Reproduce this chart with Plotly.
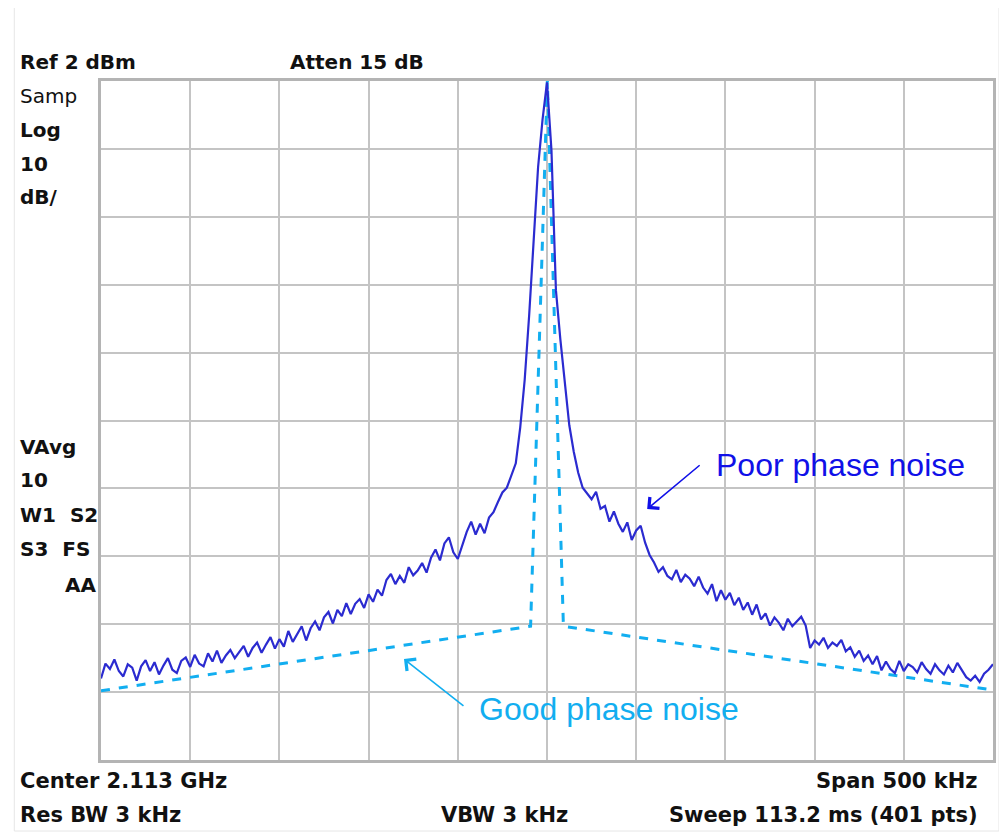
import plotly.graph_objects as go

# ---- data ----
freq_start_khz = -250.0
freq_step_khz = 2.5
poor_db = [
    -86.0, -83.8, -84.6, -83.2, -84.9, -85.7, -83.9, -84.4, -86.3, -84.2,
    -83.3, -84.9, -83.6, -85.4, -84.1, -83.0, -84.7, -85.2, -83.4, -82.9,
    -84.3, -82.5, -83.8, -84.2, -82.3, -83.5, -81.9, -83.7, -82.6, -81.8,
    -83.0, -82.1, -81.2, -82.8, -81.5, -80.7, -82.2, -81.0, -79.9, -81.6,
    -80.2, -81.3, -79.0, -80.6, -79.5, -78.3, -80.4, -78.6, -77.6, -78.9,
    -77.0, -76.2, -77.9, -75.9, -76.8, -74.9, -76.5, -75.0, -74.3, -75.6,
    -73.6, -74.7, -72.9, -73.8, -71.5, -70.6, -72.1, -70.9, -71.9, -69.6,
    -70.8, -70.1, -69.0, -70.4, -68.2, -67.0, -68.6, -66.1, -65.2, -67.4,
    -68.4, -66.5, -64.4, -62.9, -64.8, -63.2, -64.6, -62.3, -61.5, -60.0,
    -58.6, -57.9, -56.2, -54.3, -49.0, -42.0, -32.5, -20.7, -10.7, -3.7,
    1.8,
    -8.2, -28.8, -36.1, -42.8, -48.7, -52.6, -55.7, -57.9, -58.7,
    -59.6, -58.5, -61.0, -60.6, -62.9, -61.4, -63.2, -64.4, -63.0, -65.6,
    -64.2, -63.5, -66.0, -67.8, -68.9, -70.3, -69.6, -70.9, -71.4, -70.0,
    -71.8, -70.7, -71.3, -72.4, -71.0, -72.6, -73.5, -72.1, -74.6, -73.0,
    -74.4, -73.4, -75.2, -74.1, -75.9, -74.8, -76.6, -75.1, -77.3, -76.4,
    -78.2, -77.0, -77.8, -78.9, -77.2, -78.3, -77.6, -76.9, -78.2, -81.5,
    -80.4, -81.0, -80.0, -81.5, -80.7, -81.2, -80.3, -82.0, -81.4, -82.8,
    -81.9, -83.4, -82.6, -83.9, -82.7, -84.8, -83.5, -84.6, -85.2, -83.4,
    -84.9, -83.9, -84.3, -85.1, -83.6, -84.6, -85.3, -83.9, -84.8, -85.4,
    -84.1, -85.1, -83.7, -84.7, -85.8, -86.3, -85.6, -86.5, -85.3, -84.7,
    -83.9,
]
poor_freq = [freq_start_khz + freq_step_khz * i for i in range(len(poor_db))]

good_freq = [-250.0, -9.2, 0.2, 9.2, 250.0]
good_db = [-87.8, -78.3, 2.0, -78.3, -87.7]

ref_level = 2.0
db_per_div = 10.0
span_khz = 500.0

header = ["Ref 2 dBm", "Atten 15 dB"]
side_top = ["Samp", "Log", "10", "dB/"]
side_bottom = ["VAvg", "10", "W1&nbsp;&nbsp;S2", "S3&nbsp;&nbsp;FS", "AA"]
footer = ["Center 2.113 GHz", "Span 500 kHz", "Res BW 3 kHz", "VBW 3 kHz",
          "Sweep 113.2 ms (401 pts)"]
poor_label = "Poor phase noise"
good_label = "Good phase noise"

# ---- figure ----
# page body has an 8px margin, so the figure is 8px smaller and coordinates
# below are expressed in window pixels
OFF = 8
WIN_W, WIN_H = 1007, 832
W, H = WIN_W - OFF, WIN_H - OFF
L, R, T, B = 101, 996, 81, 760

def px(x):
    return (x - L) / (R - L)

def py(y):
    return (B - y) / (B - T)

fig = go.Figure()
fig.add_trace(go.Scatter(x=good_freq, y=good_db, mode="lines",
                         line=dict(color="#12aef0", width=3, dash="dash"),
                         hoverinfo="skip", showlegend=False))
fig.add_trace(go.Scatter(x=poor_freq, y=poor_db, mode="lines",
                         line=dict(color="#2b2bd0", width=2.2),
                         showlegend=False))

lbl = dict(family="DejaVu Sans, Liberation Sans, sans-serif", size=20, color="#111111")
lbl_foot = dict(family="DejaVu Sans, Liberation Sans, sans-serif", size=21, color="#111111")
ann = []

def text(t, x, y, anchor="left", bold=True, font=None):
    f = font if font else lbl
    ann.append(dict(text=("<b>%s</b>" % t) if bold else t, x=px(x), y=py(y),
                    xref="paper", yref="paper", xanchor=anchor, yanchor="middle",
                    showarrow=False, font=f))

text(header[0], 18, 62)
text(header[1], 289, 62)
text(side_top[0], 18, 96, bold=False)
text(side_top[1], 18, 130)
text(side_top[2], 18, 164)
text(side_top[3], 18, 197)
text(side_bottom[0], 18, 447)
text(side_bottom[1], 18, 480)
text(side_bottom[2], 18, 515)
text(side_bottom[3], 18, 549)
text(side_bottom[4], 98, 585, anchor="right")
text(footer[0], 18, 781, font=lbl_foot)
text(footer[1], 983, 781, anchor="right", font=lbl_foot)
text(footer[2], 18, 815, font=lbl_foot)
text(footer[3], 440, 815, font=lbl_foot)
text(footer[4], 983, 815, anchor="right", font=lbl_foot)

text(poor_label, 716, 465, bold=False,
     font=dict(family="Liberation Sans, Arial, sans-serif", size=32, color="#1010e8"))
text(good_label, 478, 709, bold=False,
     font=dict(family="Liberation Sans, Arial, sans-serif", size=32, color="#12aef0"))

# arrows
ann.append(dict(x=px(649), y=py(509), xref="paper", yref="paper", text="",
                showarrow=True, ax=54, ay=-45, arrowhead=4, arrowsize=1.8,
                arrowwidth=1.6, arrowcolor="#1010e8", standoff=0))
ann.append(dict(x=px(405), y=py(659), xref="paper", yref="paper", text="",
                showarrow=True, ax=61, ay=48, arrowhead=4, arrowsize=1.8,
                arrowwidth=1.6, arrowcolor="#12aef0", standoff=0))

fig.update_layout(
    width=W, height=H,
    margin=dict(l=L - OFF, r=WIN_W - R, t=T - OFF, b=WIN_H - B),
    paper_bgcolor="white", plot_bgcolor="white",
    annotations=ann,
    shapes=[dict(type="rect", xref="paper", yref="paper",
                 x0=px(14), x1=px(1002), y0=py(831), y1=py(6),
                 line=dict(color="#e6e6e6", width=1), layer="below")],
)
fig.update_xaxes(range=[-span_khz / 2, span_khz / 2], dtick=50, tick0=0,
                 showgrid=True, gridcolor="#c4c4c4", gridwidth=2,
                 showline=True, linecolor="#b4b4b4", linewidth=3, mirror=True,
                 showticklabels=False, ticks="", zeroline=False)
fig.update_yaxes(range=[ref_level - 10 * db_per_div, ref_level], dtick=10, tick0=ref_level,
                 showgrid=True, gridcolor="#c4c4c4", gridwidth=2,
                 showline=True, linecolor="#b4b4b4", linewidth=3, mirror=True,
                 showticklabels=False, ticks="", zeroline=False)

fig.write_html("out.html")
